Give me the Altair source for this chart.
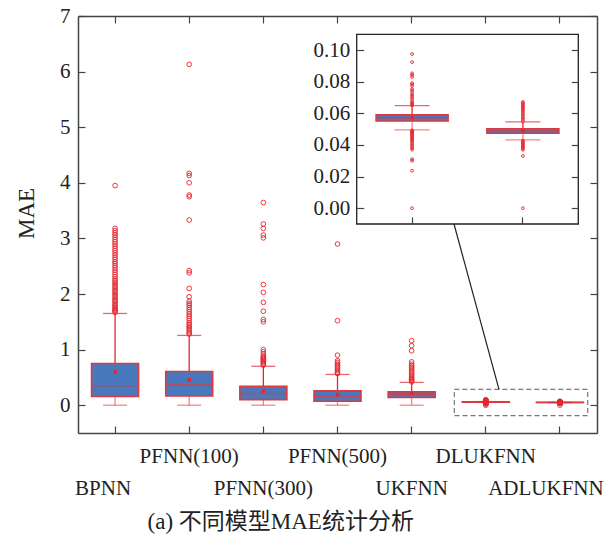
import altair as alt
import pandas as pd

# ---------------- data ----------------
models = ["BPNN", "PFNN(100)", "PFNN(300)", "PFNN(500)", "UKFNN", "DLUKFNN", "ADLUKFNN"]
q1 = [0.157, 0.168, 0.100, 0.072, 0.138, 0.0552, 0.0474]
median = [0.350, 0.366, 0.210, 0.157, 0.198, 0.0571, 0.0489]
q3 = [0.750, 0.607, 0.342, 0.258, 0.240, 0.0590, 0.0503]
whisker_low = [0.0, 0.0, 0.0, 0.0, 0.0, 0.0495, 0.0432]
whisker_high = [1.650, 1.255, 0.700, 0.553, 0.410, 0.0649, 0.0546]
mean = [0.600, 0.456, 0.252, 0.193, 0.210, 0.0573, 0.0490]

out_bpnn = [1.67, 1.69, 1.71, 1.73, 1.75, 1.78, 1.80, 1.83, 1.86, 1.88, 1.91, 1.94, 1.97,
            2.00, 2.03, 2.06, 2.09, 2.12, 2.15, 2.18, 2.21, 2.24, 2.27, 2.31, 2.35, 2.39,
            2.43, 2.47, 2.51, 2.55, 2.58, 2.62, 2.66, 2.70, 2.74, 2.78, 2.82, 2.86, 2.90,
            2.94, 2.98, 3.02, 3.06, 3.10, 3.14, 3.18, 3.95]
out_pfnn100 = [1.28, 1.30, 1.33, 1.36, 1.39, 1.42, 1.45, 1.48, 1.52, 1.56, 1.60, 1.64, 1.68,
               1.72, 1.76, 1.80, 1.83, 1.87, 1.95, 2.10, 2.38, 2.42, 3.33, 3.75, 3.78, 4.00,
               4.13, 4.17, 6.13]
out_pfnn300 = [0.72, 0.74, 0.76, 0.78, 0.80, 0.82, 0.84, 0.86, 0.88, 0.92, 0.96, 1.00, 1.50,
               1.54, 1.69, 1.85, 2.03, 2.17, 3.01, 3.06, 3.18, 3.26, 3.645]
out_pfnn500 = [0.57, 0.59, 0.62, 0.65, 0.68, 0.71, 0.74, 0.77, 0.80, 0.90, 1.52, 2.90]
out_ukfnn = [0.42, 0.44, 0.46, 0.48, 0.50, 0.53, 0.56, 0.59, 0.62, 0.65, 0.68, 0.71, 0.74,
             0.78, 0.98, 1.07, 1.16]
out_dlukfnn = [0.0975, 0.0924, 0.0853, 0.0843, 0.0830, 0.0790, 0.0785, 0.0775, 0.0754,
               0.0745, 0.0733, 0.0720, 0.0711, 0.0701, 0.0690, 0.0676, 0.0668, 0.0660,
               0.0655, 0.0650, 0.0492, 0.0488, 0.0482, 0.0476, 0.0470, 0.0463, 0.0456,
               0.0449, 0.0442, 0.0435, 0.0428, 0.0420, 0.0410, 0.0400, 0.0390, 0.0380,
               0.0370, 0.0310, 0.0300, 0.0237, 0.0]
out_adlukfnn = [0.0672, 0.0665, 0.0658, 0.0650, 0.0642, 0.0635, 0.0627, 0.0620, 0.0610,
                0.0600, 0.0590, 0.0580, 0.0570, 0.0560, 0.0550, 0.0428, 0.0422, 0.0416,
                0.0410, 0.0403, 0.0396, 0.0390, 0.0383, 0.0376, 0.0370, 0.0330, 0.0]

inset_models = ["DLUKFNN", "ADLUKFNN"]
inset_ticks = [0.0, 0.02, 0.04, 0.06, 0.08, 0.10]
chart_title = "(a) 不同模型MAE统计分析"

# ---------------- tables ----------------
stats = pd.DataFrame({"model": models, "q1": q1, "median": median, "q3": q3,
                      "wlo": whisker_low, "whi": whisker_high, "mean": mean})
out_lists = [out_bpnn, out_pfnn100, out_pfnn300, out_pfnn500, out_ukfnn, out_dlukfnn, out_adlukfnn]
outs = pd.DataFrame({"model": [m for m, l in zip(models, out_lists) for _ in l],
                     "value": [v for l in out_lists for v in l]})
istats = stats[stats["model"].isin(inset_models)]
iouts = outs[outs["model"].isin(inset_models)]

SERIF = "Liberation Serif"
RED = "#e5262d"
BOXRED = "#dc3a40"
BLUE = "#4a78bd"
AX = "#444444"
NEG = {"expr": "-7"}

W, H = 519, 417
IX0, IX1, IY0, IY1 = 278.7, 500.3, 18.3, 208.0

XM = alt.Scale(type="band", domain=models, paddingInner=0, paddingOuter=0)
YM = alt.Scale(domain=[-0.5, 7], nice=False, zero=False)
XI = alt.Scale(type="band", domain=inset_models, paddingInner=0, paddingOuter=0, range=[IX0, IX1])
YI = alt.Scale(domain=[-0.01, 0.11], nice=False, zero=False, range=[IY1, IY0])

ax_left = alt.Axis(orient="left", values=list(range(0, 8)), format="d", grid=False,
                   labelFont=SERIF, labelFontSize=21, labelColor="#222", labelPadding=15,
                   tickSize=NEG, tickColor=AX, tickWidth=1.2, domainColor=AX, domainWidth=1.5,
                   title="MAE", titleFont=SERIF, titleFontSize=23, titleFontWeight="normal",
                   titleColor="#222", titleAngle=-90, titleX=-52, titleY=197,
                   titleAlign="center", titleBaseline="middle")
ax_right = alt.Axis(orient="right", values=list(range(0, 8)), labels=False, grid=False,
                    tickSize=NEG, tickColor=AX, tickWidth=1.2, domainColor=AX, domainWidth=1.5,
                    title=None)
ax_bottom = alt.Axis(orient="bottom", labels=False, grid=False, bandPosition=0.5,
                     tickSize=NEG, tickColor=AX, tickWidth=1.2, domainColor=AX, domainWidth=1.5,
                     title=None)
ax_top = alt.Axis(orient="top", labels=False, grid=False, bandPosition=0.5,
                  tickSize=NEG, tickColor=AX, tickWidth=1.2, domainColor=AX, domainWidth=1.5,
                  title=None)
iax_left = alt.Axis(orient="left", offset=-IX0, values=inset_ticks, format=".2f", grid=False,
                    labelFont=SERIF, labelFontSize=21, labelColor="#222", labelPadding=14,
                    tickSize=NEG, tickColor=AX, tickWidth=1.2, domain=False, title=None, zindex=1)
iax_right = alt.Axis(orient="right", offset=IX1 - W, values=inset_ticks, labels=False, grid=False,
                     tickSize=NEG, tickColor=AX, tickWidth=1.2, domain=False, title=None, zindex=1)
iax_bottom = alt.Axis(orient="bottom", offset=IY1 - H, labels=False, grid=False, bandPosition=0.5,
                      tickSize=NEG, tickColor=AX, tickWidth=1.2, domain=False, title=None, zindex=1)


def box_layers(data, xs, ys, box_w, cap_w, pt_size, odata, xax_a, yax_a, xax_b, yax_b):
    base = alt.Chart(data)
    X = lambda ax: alt.X("model:N", scale=xs, axis=ax, sort=None)
    up = base.mark_rule(color=RED, strokeWidth=1.3).encode(
        x=X(xax_a), y=alt.Y("whi:Q", scale=ys, axis=yax_a), y2="q3:Q")
    lo = base.mark_rule(color=RED, strokeWidth=1.3, opacity=0.55).encode(
        x=X(xax_b), y=alt.Y("q1:Q", scale=ys, axis=yax_b), y2="wlo:Q")
    cap_hi = base.mark_tick(color=RED, size=cap_w, thickness=1.3).encode(
        x=X(None), y=alt.Y("whi:Q", scale=ys, axis=None))
    cap_lo = base.mark_tick(color=RED, size=cap_w, thickness=1.3, opacity=0.55).encode(
        x=X(None), y=alt.Y("wlo:Q", scale=ys, axis=None))
    box = base.mark_bar(size=box_w, fill=BLUE, stroke=BOXRED, strokeWidth=1.6).encode(
        x=X(None), y=alt.Y("q1:Q", scale=ys, axis=None), y2="q3:Q")
    med = base.mark_tick(color=BOXRED, size=box_w, thickness=1.5).encode(
        x=X(None), y=alt.Y("median:Q", scale=ys, axis=None))
    mn = base.mark_square(color=RED, size=12, opacity=1).encode(
        x=X(None), y=alt.Y("mean:Q", scale=ys, axis=None))
    pts = alt.Chart(odata).mark_point(shape="circle", filled=False, color=RED,
                                      size=pt_size, strokeWidth=1, opacity=0.9).encode(
        x=alt.X("model:N", scale=xs, axis=None, sort=None),
        y=alt.Y("value:Q", scale=ys, axis=None))
    return [up, lo, cap_hi, cap_lo, box, med, mn, pts]


one = pd.DataFrame({"k": [0]})

main = box_layers(stats, XM, YM, 47, 24, 22, outs, ax_bottom, ax_left, ax_top, ax_right)

dashed = alt.Chart(one).mark_rect(fill=None, stroke="#777777", strokeWidth=1.2,
                                  strokeDash=[5, 3]).encode(
    x=alt.value(376.3), x2=alt.value(509.7), y=alt.value(373.3), y2=alt.value(399.7))
connector = alt.Chart(one).mark_rule(color="#222222", strokeWidth=1.2).encode(
    x=alt.value(376.0), y=alt.value(IY1), x2=alt.value(421.0), y2=alt.value(373.3))
inset_bg = alt.Chart(one).mark_rect(fill="white", stroke="#222222", strokeWidth=1.3).encode(
    x=alt.value(IX0), x2=alt.value(IX1), y=alt.value(IY0), y2=alt.value(IY1))

inset = box_layers(istats, XI, YI, 72, 35, 8, iouts, iax_bottom, iax_left, None, iax_right)


def xlabels(ypix, names, dx=0):
    return alt.Chart(stats).transform_filter(
        alt.FieldOneOfPredicate(field="model", oneOf=names)).mark_text(
        font=SERIF, fontSize=21, color="#222", baseline="middle", align="center", dx=dx).encode(
        x=alt.X("model:N", scale=XM, axis=None, sort=None),
        y=alt.value(ypix), text="model:N")


lab1 = xlabels(440.6, ["PFNN(100)", "PFNN(500)", "DLUKFNN"])
lab2 = xlabels(472.5, ["PFNN(300)", "UKFNN"])
lab_b = xlabels(472.5, ["BPNN"], dx=-12)
lab_a = xlabels(472.5, ["ADLUKFNN"], dx=-14)

title = alt.Chart(pd.DataFrame({"t": [chart_title]})).mark_text(
    font=SERIF + ", Noto Sans CJK SC", fontSize=23, color="#222", align="center",
    baseline="middle").encode(x=alt.value(202.7), y=alt.value(505.5), text="t:N")

chart = alt.layer(*main, dashed, connector, inset_bg, *inset, lab1, lab2, lab_b, lab_a, title).resolve_scale(
    x="independent", y="independent").resolve_axis(x="independent", y="independent").properties(
    width=W, height=H, autosize=alt.AutoSizeParams(type="none"),
    padding={"left": 78, "top": 16, "right": 19, "bottom": 110}).configure_view(stroke=None)

chart.save("out.html", embed_options={"renderer": "svg", "actions": False})
